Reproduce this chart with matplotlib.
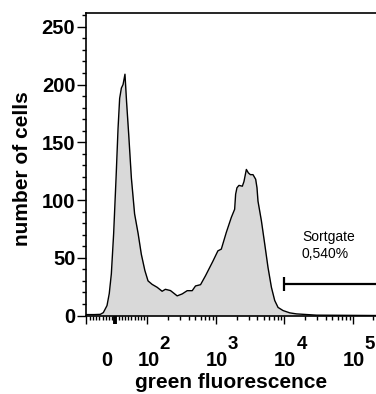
import numpy as np
import matplotlib
matplotlib.use('Agg')
import matplotlib.pyplot as plt

plt.rcParams['font.family'] = ['Liberation Sans', 'DejaVu Sans']

# histogram outline: green fluorescence vs number of cells
fluor = [-94, -66, -47, -37.5, -26, -19, -12.5, -5.3, 2.2, 8.4, 13.4, 18.8, 24, 30,
         35, 41.6, 50, 60, 71, 81, 92, 102, 117, 139, 164, 183, 217, 235, 272, 322,
         381, 451, 504, 597, 706, 904, 1070, 1200, 1420, 1681, 1879, 1942, 2030,
         2171, 2435, 2570, 2786, 2981, 3190, 3483, 3811, 3984, 4120, 4621, 5164,
         5771, 6471, 7230, 8086, 9570, 12000, 15030, 29500, 218000]
cells = [0.8, 0.8, 1, 2.5, 8.6, 19, 36, 71, 119, 162, 188, 197, 200, 209,
         185, 157, 119, 88, 71, 53, 39, 30, 27, 24.4, 21, 22.7, 21.6, 20, 17, 18.7,
         21.5, 21.5, 25.6, 26.7, 34.5, 47, 56, 57.5, 72, 85, 92, 105, 110.6,
         112.7, 112, 116, 126.5, 123.5, 122, 122, 118, 110.6, 99, 82, 62,
         41.6, 24.4, 13, 7, 4.3, 2.3, 1.4, 0.3, 0]

gate_lo = 1e4
gate_hi = 3e5
gate_y = 27.3
gate_label = 'Sortgate\n0,540%'

# biexponential-like display: linear up to 100, log above
LIN = 100.0
R = 0.4685

def fwd(x):
    x = np.asarray(x, float)
    a = np.abs(x)
    return np.where(a <= LIN, x / LIN * R, np.sign(x) * (R + np.log10(np.maximum(a, LIN) / LIN)))

def inv(y):
    y = np.asarray(y, float)
    a = np.abs(y)
    return np.where(a <= R, y / R * LIN, np.sign(y) * LIN * 10 ** (np.maximum(a, R) - R))

fig = plt.figure(figsize=(3.76, 3.94), dpi=100)
ax = fig.add_axes([0.230, 0.1992, 0.770, 0.7678])
ax.set_xscale('function', functions=(fwd, inv))
ax.set_xlim(-90, 2.18e5)
ax.set_ylim(0, 262)

ax.fill_between(fluor, cells, 0, color='#d9d9d9', lw=0)
ax.plot(fluor, cells, color='black', lw=1.0)

# sort gate
ax.plot([gate_lo, gate_hi], [gate_y, gate_y], color='black', lw=1.6, solid_capstyle='butt')
ax.plot([gate_lo, gate_lo], [gate_y - 6, gate_y + 6], color='black', lw=1.6, solid_capstyle='butt')
ax.text(1.8e4, 74, gate_label, fontsize=10, ha='left', va='top', linespacing=1.25)

for s in ['left', 'top', 'bottom']:
    ax.spines[s].set_linewidth(1.2)
    ax.spines[s].set_color('black')
ax.spines['right'].set_visible(False)

# y axis
ax.set_yticks(np.arange(0, 251, 50))
ax.set_yticks(np.arange(0, 262, 10), minor=True)
ax.tick_params(axis='y', which='major', direction='out', length=6.5, width=1, pad=1.5,
               labelsize=14.5)
ax.tick_params(axis='y', which='minor', direction='out', length=3, width=1)
for lab in ax.get_yticklabels():
    lab.set_fontweight('bold')

# x axis ticks
major_x = [-90, 0, 1e2, 1e3, 1e4, 1e5]
minor_x = [v * s for v in range(10, 100, 10) for s in (-1, 1)]
minor_x += [k * 10 ** d for d in (2, 3, 4) for k in range(2, 10)] + [2e5]
ax.set_xticks(major_x)
ax.set_xticks(minor_x, minor=True)
ax.set_xticklabels([])
ax.tick_params(axis='x', which='major', direction='out', length=6, width=1)
ax.tick_params(axis='x', which='minor', direction='out', length=3, width=1)
ax.xaxis.get_major_ticks()[1].tick1line.set_markeredgewidth(2.8)

# x tick labels drawn as "10" plus a large exponent
trans = ('data', 'axes fraction')
ax.annotate('0', xy=(0, 0), xycoords=trans, xytext=(-5.8, -36), textcoords='offset points',
            ha='center', va='baseline', fontsize=14.5, fontweight='bold', annotation_clip=False)
for d in (2, 3, 4, 5):
    ax.annotate('10', xy=(10 ** d, 0), xycoords=trans, xytext=(0.7, -36),
                textcoords='offset points', ha='center', va='baseline',
                fontsize=14.5, fontweight='bold', annotation_clip=False)
    ax.annotate(str(d), xy=(10 ** d, 0), xycoords=trans, xytext=(8.6, -24),
                textcoords='offset points', ha='left', va='baseline',
                fontsize=13.5, fontweight='bold', annotation_clip=False)

fig.text(231 / 376, 1 - 388 / 394, 'green fluorescence', ha='center', va='baseline',
         fontsize=15, fontweight='bold')
fig.text(23 / 376, 1 - 169 / 394, 'number of cells', ha='center', va='center',
         rotation=90, fontsize=15, fontweight='bold')

fig.savefig('out.png', dpi=100)
